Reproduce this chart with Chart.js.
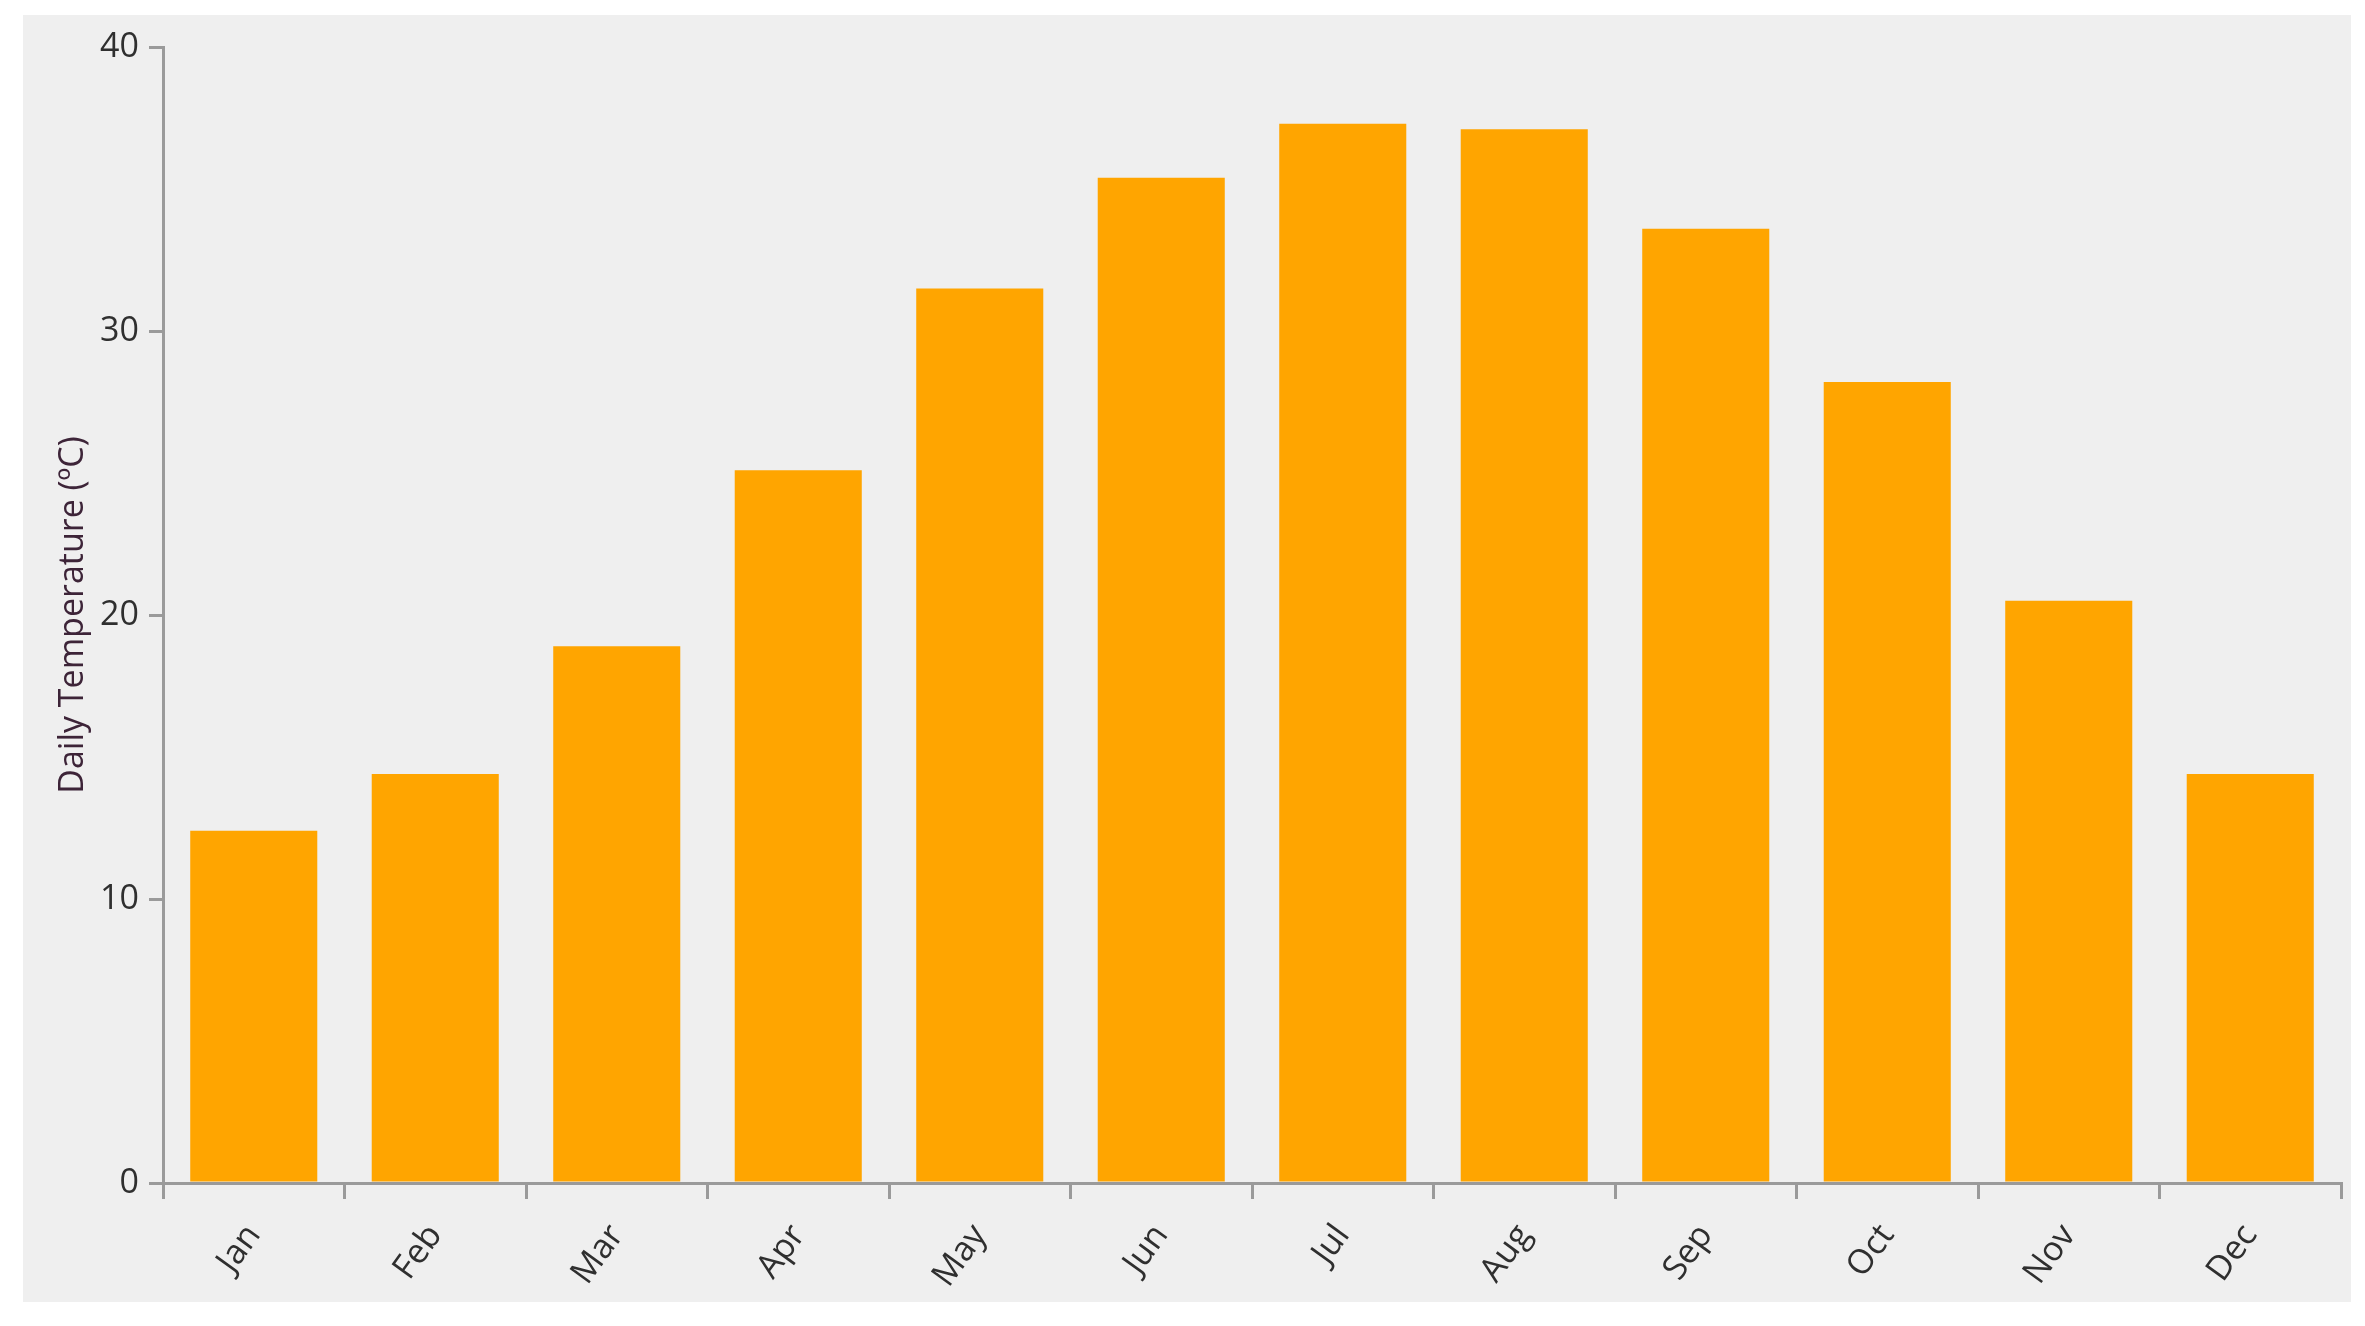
<!DOCTYPE html>
<html>
<head>
<meta charset="utf-8">
<script src="https://cdn.jsdelivr.net/npm/chart.js@4"></script>
<style>
  html, body { margin: 0; padding: 0; background: #fff; }
  #panel {
    position: absolute; left: 23px; top: 15px;
    width: 2328px; height: 1287px; background: #efefef;
  }
</style>
</head>
<body>
<div id="panel"><canvas id="chart"></canvas></div>
<script>
// ── Data ──
const months = ['Jan','Feb','Mar','Apr','May','Jun','Jul','Aug','Sep','Oct','Nov','Dec'];
const dailyTemp = [12.4, 14.4, 18.9, 25.1, 31.5, 35.4, 37.3, 37.1, 33.6, 28.2, 20.5, 14.4];
const yTicks = [0, 10, 20, 30, 40];

const axisGrey = '#9a9a9a';
const textCol  = '#2f2f2f';
const font     = { family: "'Open Sans', 'Noto Sans', sans-serif", size: 34 };

new Chart(document.getElementById('chart'), {
  type: 'bar',
  data: {
    labels: months,
    datasets: [{
      label: 'Daily Temperature',
      data: dailyTemp,
      backgroundColor: '#ffa500',
      barPercentage: 0.7,
      categoryPercentage: 1.0,
    }]
  },
  options: {
    responsive: true, maintainAspectRatio: false, animation: false,
    layout: { padding: { top: 32, right: 10, left: 0, bottom: 0 } },
    plugins: { legend: { display: false }, tooltip: { enabled: false } },
    scales: {
      x: {
        grid: { display: true, drawOnChartArea: false, drawTicks: true, tickLength: 16, color: axisGrey, lineWidth: 3, offset: true },
        border: { display: true, color: axisGrey, width: 3 },
        ticks: { color: textCol, font, minRotation: 54, maxRotation: 54, padding: 18 },
        afterFit: s => { s.height = 119; }
      },
      y: {
        min: 0, max: 40,
        afterBuildTicks: s => { s.ticks = yTicks.map(v => ({ value: v })); },
        grid: { display: true, drawOnChartArea: false, drawTicks: true, tickLength: 14, color: axisGrey, lineWidth: 3 },
        border: { display: true, color: axisGrey, width: 3 },
        ticks: { color: textCol, font, padding: 10 },
        title: { display: true, text: 'Daily Temperature (ºC)', color: '#3d2438', font, padding: { top: 30, bottom: 0 } },
        afterFit: s => { s.width = 140; }
      }
    }
  }
});
</script>
</body>
</html>
